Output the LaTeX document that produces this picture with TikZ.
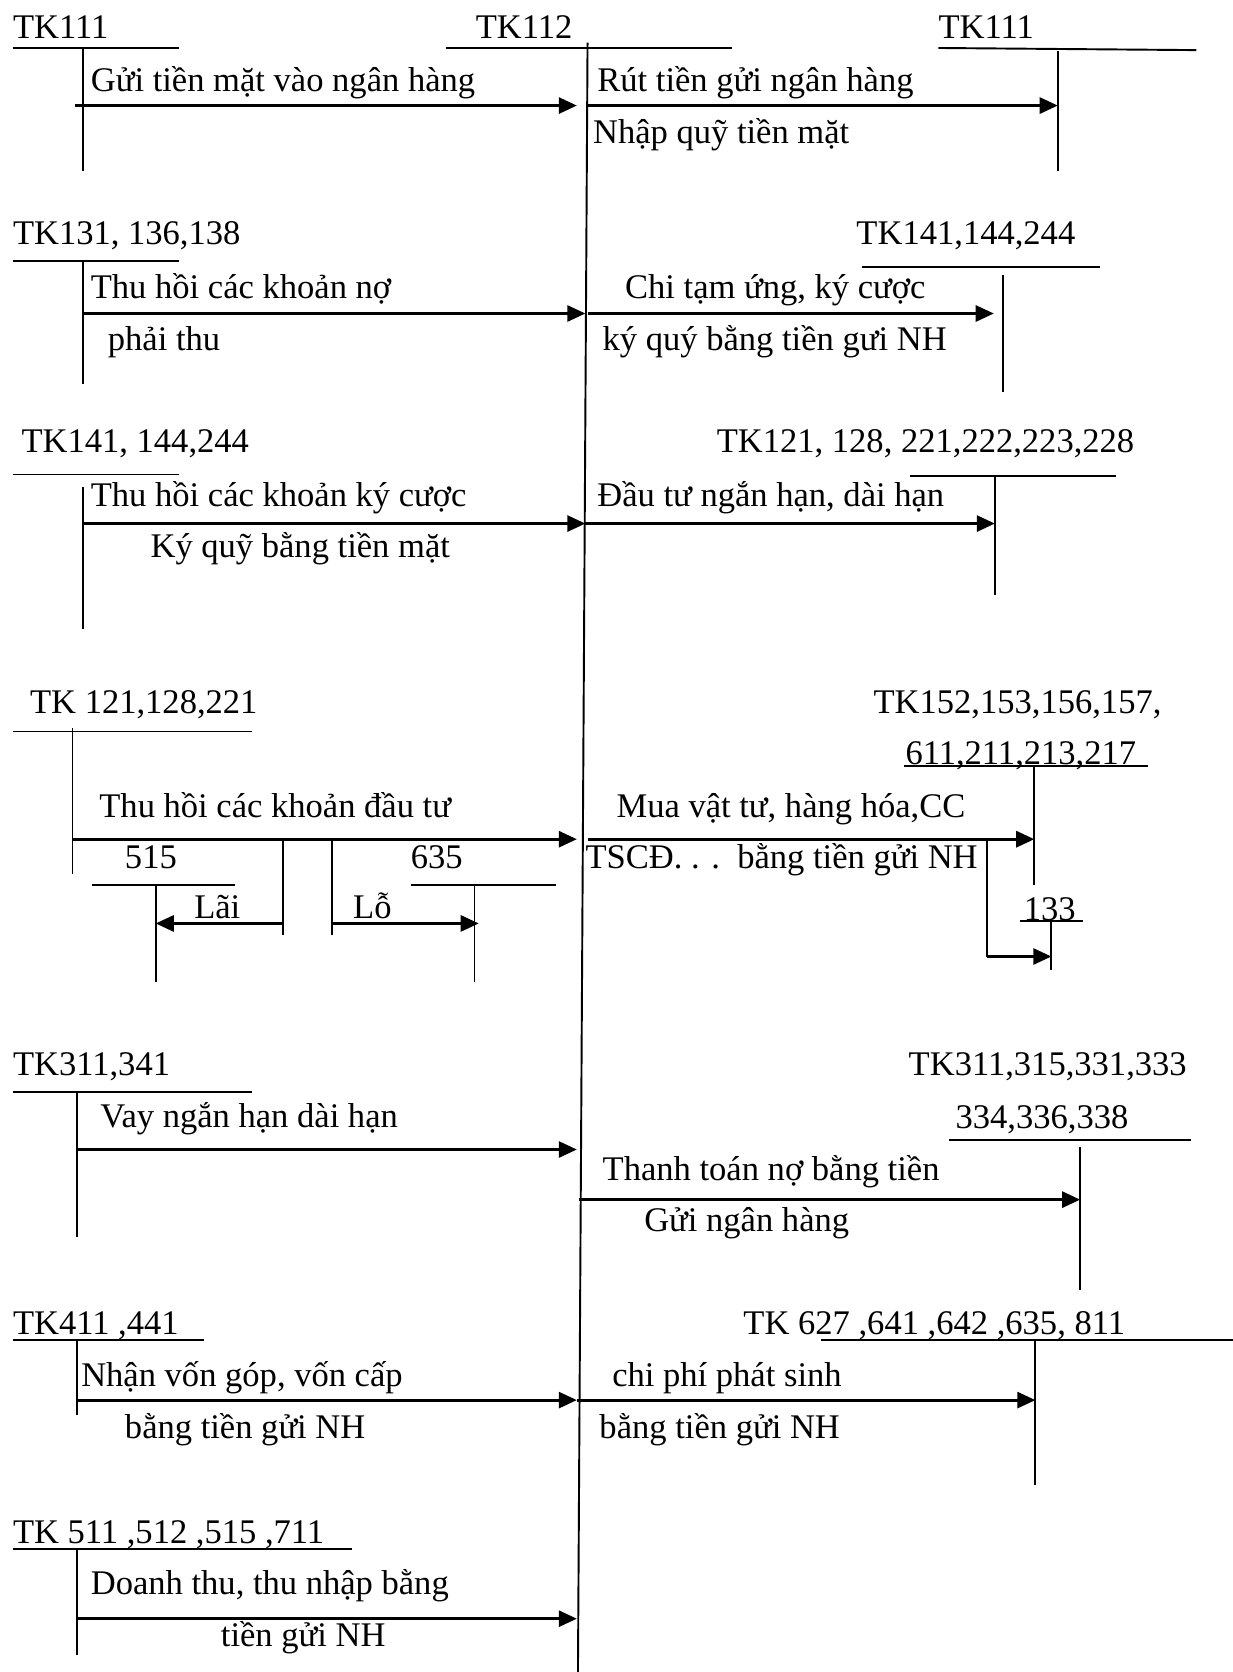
\documentclass[tikz,border=0pt]{standalone}
\usepackage{fontspec}
\setmainfont{Liberation Serif}
\usetikzlibrary{arrows.meta}
\begin{document}
\begin{tikzpicture}[x=1pt,y=-1pt,
  acct/.style={line width=1.8pt},
  flow/.style={line width=2.8pt,-{Triangle[length=17pt,width=15pt]}},
  lbl/.style={anchor=west,inner sep=0pt,text height=21.4pt,text depth=0pt,
    font=\fontsize{32.4pt}{38pt}\selectfont}]
\useasboundingbox (0,0) rectangle (1156,1568);

% ---- central account TK112 ----
\node[lbl] (tk112) at (446,25) {TK112};
\coordinate (c112L) at (418,45); \coordinate (c112R) at (686,45);
\draw[acct] (c112L) -- (c112R);
\coordinate (ctop) at (551,40); \coordinate (cbot) at (542,1568);
\draw[acct] (ctop) -- (cbot);

% ---- row 1 ----
\node[lbl] (tk111a) at (12,25) {TK111};
\coordinate (a1L) at (12,45); \coordinate (a1R) at (168,45);
\coordinate (a1t) at (78,45); \coordinate (a1b) at (78,160);
\draw[acct] (a1L) -- (a1R); \draw[acct] (a1t) -- (a1b);
\coordinate (f1s) at (70,99); \coordinate (f1e) at (541,99);
\draw[flow] (f1s) -- (f1e);
\node[lbl] (t1a) at (85,75) {Gửi tiền mặt vào ngân hàng};

\node[lbl] (tk111b) at (880,25) {TK111};
\coordinate (b1L) at (880,45); \coordinate (b1R) at (1122,47);
\coordinate (b1t) at (992,48); \coordinate (b1b) at (992,160);
\draw[acct] (b1L) -- (b1R); \draw[acct] (b1t) -- (b1b);
\coordinate (g1s) at (551,99); \coordinate (g1e) at (992,99);
\draw[flow] (g1s) -- (g1e);
\node[lbl] (t1b) at (560,75) {Rút tiền gửi ngân hàng};
\node[lbl] (t1c) at (556,124) {Nhập quỹ tiền mặt};

% ---- row 2 ----
\node[lbl] (tk131) at (12,219) {TK131, 136,138};
\coordinate (a2L) at (12,245); \coordinate (a2R) at (168,245);
\coordinate (a2t) at (78,245); \coordinate (a2b) at (78,360);
\draw[acct] (a2L) -- (a2R); \draw[acct] (a2t) -- (a2b);
\coordinate (f2s) at (78,294); \coordinate (f2e) at (549,294);
\draw[flow] (f2s) -- (f2e);
\node[lbl] (t2a) at (85,269) {Thu hồi các khoản nợ};
\node[lbl] (t2b) at (101,318) {phải thu};

\node[lbl] (tk141b) at (803,219) {TK141,144,244};
\coordinate (b2L) at (808,250); \coordinate (b2R) at (1032,250);
\coordinate (b2t) at (941,258); \coordinate (b2b) at (941,368);
\draw[acct] (b2L) -- (b2R); \draw[acct] (b2t) -- (b2b);
\coordinate (g2s) at (551,294); \coordinate (g2e) at (932,294);
\draw[flow] (g2s) -- (g2e);
\node[lbl] (t2c) at (586,269) {Chi tạm ứng, ký cược};
\node[lbl] (t2d) at (565,318) {ký quý bằng tiền gưi NH};

% ---- row 3 ----
\node[lbl] (tk141a) at (20,414) {TK141, 144,244};
\coordinate (a3L) at (12,445); \coordinate (a3R) at (168,445);
\coordinate (a3t) at (78,457); \coordinate (a3b) at (78,590);
\draw[acct] (a3L) -- (a3R); \draw[acct] (a3t) -- (a3b);
\coordinate (f3s) at (78,491); \coordinate (f3e) at (549,491);
\draw[flow] (f3s) -- (f3e);
\node[lbl] (t3a) at (85,464) {Thu hồi các khoản ký cược};
\node[lbl] (t3b) at (141,512) {Ký quỹ bằng tiền mặt};

\node[lbl] (tk121b) at (672,414) {TK121, 128, 221,222,223,228};
\coordinate (b3L) at (853,446); \coordinate (b3R) at (1047,446);
\coordinate (b3t) at (933,446); \coordinate (b3b) at (933,558);
\draw[acct] (b3L) -- (b3R); \draw[acct] (b3t) -- (b3b);
\coordinate (g3s) at (549,491); \coordinate (g3e) at (933,491);
\draw[flow] (g3s) -- (g3e);
\node[lbl] (t3c) at (560,464) {Đầu tư ngắn hạn, dài hạn};

% ---- row 4 ----
\node[lbl] (tk121a) at (28,658) {TK 121,128,221};
\coordinate (a4L) at (12,686); \coordinate (a4R) at (236,686);
\coordinate (a4t) at (68,683); \coordinate (a4b) at (68,820);
\draw[acct] (a4L) -- (a4R); \draw[acct] (a4t) -- (a4b);
\coordinate (f4s) at (68,787); \coordinate (f4e) at (541,787);
\draw[flow] (f4s) -- (f4e);
\node[lbl] (t4a) at (93,756) {Thu hồi các khoản đầu tư};

% gains and losses on disposal
\coordinate (d1t) at (265,787); \coordinate (d1b) at (265,877);
\coordinate (d2t) at (311,787); \coordinate (d2b) at (311,877);
\draw[acct] (d1t) -- (d1b); \draw[acct] (d2t) -- (d2b);
\node[lbl] (k515) at (117,804) {515};
\coordinate (k515L) at (86,830); \coordinate (k515R) at (220,830);
\coordinate (k515t) at (146,830); \coordinate (k515b) at (146,921);
\draw[acct] (k515L) -- (k515R); \draw[acct] (k515t) -- (k515b);
\node[lbl] (k635) at (385,804) {635};
\coordinate (k635L) at (385,830); \coordinate (k635R) at (521,830);
\coordinate (k635t) at (445,830); \coordinate (k635b) at (445,921);
\draw[acct] (k635L) -- (k635R); \draw[acct] (k635t) -- (k635b);
\coordinate (laiS) at (265,866); \coordinate (laiE) at (146,866);
\draw[flow] (laiS) -- (laiE);
\coordinate (loS) at (311,866); \coordinate (loE) at (449,866);
\draw[flow] (loS) -- (loE);
\node[lbl] (tlai) at (182,851) {Lãi};
\node[lbl] (tlo) at (331,851) {Lỗ};

\node[lbl] (tk152) at (819,658) {TK152,153,156,157,};
\node[lbl] (tk611) at (849,706) {611,211,213,217};
\coordinate (b4L) at (848,718); \coordinate (b4R) at (1077,718);
\coordinate (b4t) at (970,718); \coordinate (b4b) at (970,830);
\draw[acct] (b4L) -- (b4R); \draw[acct] (b4t) -- (b4b);
\coordinate (g4s) at (551,787); \coordinate (g4e) at (970,787);
\draw[flow] (g4s) -- (g4e);
\node[lbl] (t4c) at (578,756) {Mua vật tư, hàng hóa,CC};
\node[lbl] (t4d) at (549,804) {TSCĐ. . .\ \ bằng tiền gửi NH};

% input VAT branch
\node[lbl] (k133) at (960,853) {133};
\coordinate (k133L) at (957,864); \coordinate (k133R) at (1016,864);
\coordinate (k133t) at (986,864); \coordinate (k133b) at (986,910);
\draw[acct] (k133L) -- (k133R); \draw[acct] (k133t) -- (k133b);
\coordinate (vat0) at (926,787); \coordinate (vat1) at (986,897);
\draw[acct] (vat0) -- (vat0 |- vat1);
\draw[flow] (vat0 |- vat1) -- (vat1);

% ---- row 5 ----
\node[lbl] (tk311a) at (12,998) {TK311,341};
\coordinate (a5L) at (12,1024); \coordinate (a5R) at (236,1024);
\coordinate (a5t) at (72,1024); \coordinate (a5b) at (72,1160);
\draw[acct] (a5L) -- (a5R); \draw[acct] (a5t) -- (a5b);
\coordinate (f5s) at (72,1078); \coordinate (f5e) at (541,1078);
\draw[flow] (f5s) -- (f5e);
\node[lbl] (t5a) at (94,1047) {Vay ngắn hạn dài hạn};

\node[lbl] (tk311b) at (852,998) {TK311,315,331,333};
\node[lbl] (tk334) at (896,1048) {334,336,338};
\coordinate (b5L) at (890,1069); \coordinate (b5R) at (1117,1069);
\coordinate (b5t) at (1013,1076); \coordinate (b5b) at (1013,1210);
\draw[acct] (b5L) -- (b5R); \draw[acct] (b5t) -- (b5b);
\coordinate (g5s) at (543,1125); \coordinate (g5e) at (1013,1125);
\draw[flow] (g5s) -- (g5e);
\node[lbl] (t5c) at (565,1096) {Thanh toán nợ bằng tiền};
\node[lbl] (t5d) at (604,1144) {Gửi ngân hàng};

% ---- row 6 ----
\node[lbl] (tk411) at (12,1241) {TK411 ,441};
\coordinate (a6L) at (12,1257); \coordinate (a6R) at (191,1257);
\coordinate (a6t) at (72,1257); \coordinate (a6b) at (72,1327);
\draw[acct] (a6L) -- (a6R); \draw[acct] (a6t) -- (a6b);
\coordinate (f6s) at (72,1313); \coordinate (f6e) at (541,1313);
\draw[flow] (f6s) -- (f6e);
\node[lbl] (t6a) at (76,1290) {Nhận vốn góp, vốn cấp};
\node[lbl] (t6b) at (117,1338) {bằng tiền gửi NH};

\node[lbl] (tk627) at (697,1241) {TK 627 ,641 ,642 ,635, 811};
\coordinate (b6L) at (770,1257); \coordinate (b6R) at (1156,1257);
\coordinate (b6t) at (971,1257); \coordinate (b6b) at (971,1393);
\draw[acct] (b6L) -- (b6R); \draw[acct] (b6t) -- (b6b);
\coordinate (g6s) at (541,1313); \coordinate (g6e) at (971,1313);
\draw[flow] (g6s) -- (g6e);
\node[lbl] (t6c) at (574,1290) {chi phí phát sinh};
\node[lbl] (t6d) at (562,1338) {bằng tiền gửi NH};

% ---- row 7 ----
\node[lbl] (tk511) at (12,1437) {TK 511 ,512 ,515 ,711};
\coordinate (a7L) at (12,1453); \coordinate (a7R) at (330,1453);
\coordinate (a7t) at (72,1453); \coordinate (a7b) at (72,1552);
\draw[acct] (a7L) -- (a7R); \draw[acct] (a7t) -- (a7b);
\coordinate (f7s) at (72,1518); \coordinate (f7e) at (541,1518);
\draw[flow] (f7s) -- (f7e);
\node[lbl] (t7a) at (85,1485) {Doanh thu, thu nhập bằng};
\node[lbl] (t7b) at (207,1533) {tiền gửi NH};
\end{tikzpicture}
\end{document}
